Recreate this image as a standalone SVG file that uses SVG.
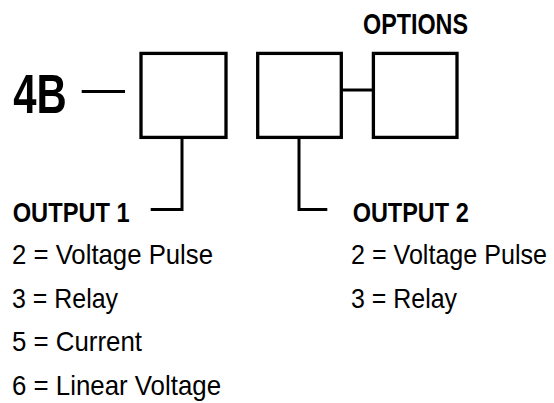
<svg xmlns="http://www.w3.org/2000/svg" width="554" height="403" viewBox="0 0 554 403">
<style>
  .box { fill: #fff; stroke: #000; stroke-width: 3.3; }
  .ln { fill: none; stroke: #000; stroke-width: 3; stroke-linecap: butt; stroke-linejoin: miter; }
  text { font-family: "Liberation Sans Narrow", "Liberation Sans", Arial, sans-serif; fill: #000; }
  .b { font-weight: bold; }
  .item { font-size: 28px; }
</style>
<rect width="554" height="403" fill="#fff"/>
<g id="connectors">
  <path class="ln" d="M81.7,91.5 H125"/>
  <path class="ln" d="M342,90 H372"/>
  <path class="ln" d="M182,139 V209.5 H150.7"/>
  <path class="ln" d="M299,139 V209.5 H327.3"/>
</g>
<g id="prefix">
  <text class="b" x="13.3" y="113" font-size="56" textLength="53.4" lengthAdjust="spacingAndGlyphs">4B</text>
</g>
<g id="box1">
  <rect class="box" x="141" y="53.4" width="85" height="84"/>
</g>
<g id="box2">
  <rect class="box" x="257.7" y="53.4" width="83.6" height="84"/>
</g>
<g id="box3">
  <rect class="box" x="373.4" y="53.4" width="83.6" height="84"/>
</g>
<g id="options-label">
  <text class="b" x="363" y="34" font-size="29.5" textLength="105" lengthAdjust="spacingAndGlyphs">OPTIONS</text>
</g>
<g id="output1">
  <text class="b item" x="12.7" y="222" textLength="117" lengthAdjust="spacingAndGlyphs">OUTPUT 1</text>
  <text class="item" x="12" y="264" textLength="201" lengthAdjust="spacingAndGlyphs">2 = Voltage Pulse</text>
  <text class="item" x="12" y="307.7" textLength="106" lengthAdjust="spacingAndGlyphs">3 = Relay</text>
  <text class="item" x="12" y="351.4" textLength="130" lengthAdjust="spacingAndGlyphs">5 = Current</text>
  <text class="item" x="12" y="395" textLength="209" lengthAdjust="spacingAndGlyphs">6 = Linear Voltage</text>
</g>
<g id="output2">
  <text class="b item" x="352.7" y="222" textLength="116" lengthAdjust="spacingAndGlyphs">OUTPUT 2</text>
  <text class="item" x="351" y="264" textLength="196" lengthAdjust="spacingAndGlyphs">2 = Voltage Pulse</text>
  <text class="item" x="351" y="307.7" textLength="106" lengthAdjust="spacingAndGlyphs">3 = Relay</text>
</g>
</svg>
